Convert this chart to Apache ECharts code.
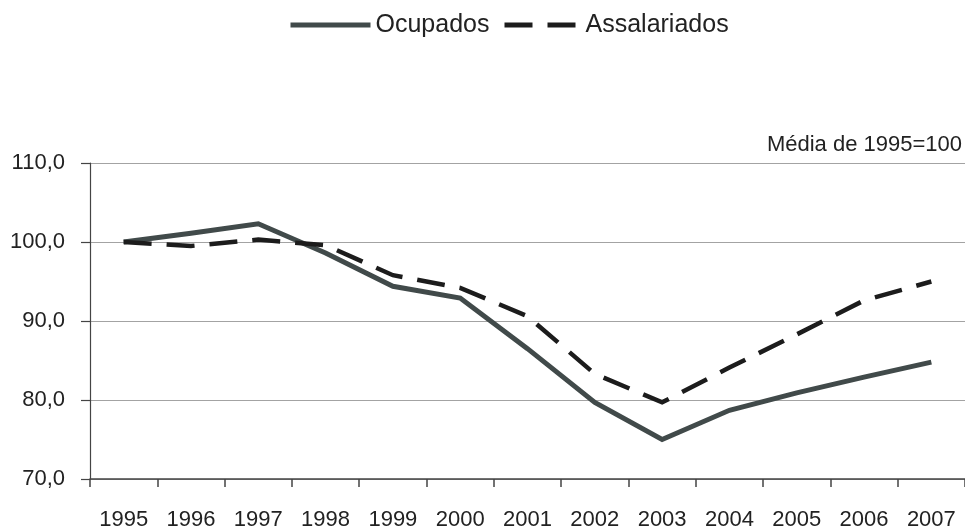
<!DOCTYPE html>
<html>
<head>
<meta charset="utf-8">
<script src="https://cdn.jsdelivr.net/npm/echarts@6/dist/echarts.min.js"></script>
<style>
html,body{margin:0;padding:0;background:#fff;}
#chart{width:965px;height:531px;}
</style>
</head>
<body>
<div id="chart"></div>
<script>
var categories = ['1995','1996','1997','1998','1999','2000','2001','2002','2003','2004','2005','2006','2007'];
var ocupados = [100.0, 101.1, 102.3, 98.6, 94.4, 92.9, 86.5, 79.7, 75.0, 78.7, 80.9, 82.9, 84.8];
var assalariados = [100.0, 99.5, 100.3, 99.6, 95.8, 94.2, 90.6, 83.3, 79.7, 84.1, 88.3, 92.6, 95.0];
var yTicks = [70, 80, 90, 100, 110];
var noteText = 'Média de 1995=100';

var FONT = '"Liberation Sans", Arial, sans-serif';
var legendCommon = {
  top: 12, padding: 0, itemHeight: 14, itemGap: 0,
  lineStyle: { width: 5 },
  itemStyle: { opacity: 0, borderWidth: 0 },
  textStyle: { fontFamily: FONT, fontSize: 25, color: '#222', lineHeight: 26 }
};
var chart = echarts.init(document.getElementById('chart'));
chart.setOption({
  animation: false,
  backgroundColor: '#ffffff',
  textStyle: { fontFamily: FONT },
  legend: [
    Object.assign({}, legendCommon, { data: ['Ocupados'], left: 288, itemWidth: 80 }),
    Object.assign({}, legendCommon, { data: ['Assalariados'], left: 502, itemWidth: 76 })
  ],
  grid: { left: 90, right: 0, top: 163, bottom: 48, containLabel: false },
  xAxis: {
    type: 'category',
    data: categories,
    boundaryGap: true,
    axisLine: { lineStyle: { color: '#444', width: 1.5 } },
    axisTick: { show: true, interval: 0, length: 8, lineStyle: { color: '#444', width: 1.5 } },
    axisLabel: { interval: 0, margin: 30, fontSize: 22, color: '#222', fontFamily: FONT },
    splitLine: { show: false }
  },
  yAxis: {
    type: 'value',
    min: yTicks[0], max: yTicks[yTicks.length - 1], interval: 10,
    axisLine: { show: true, lineStyle: { color: '#444', width: 1.2 } },
    axisTick: { show: true, length: 9, lineStyle: { color: '#444', width: 1.2 } },
    axisLabel: {
      margin: 25, fontSize: 22, color: '#222', fontFamily: FONT,
      formatter: function (v) { return v.toFixed(1).replace('.', ','); }
    },
    splitLine: { show: true, lineStyle: { color: '#a3a3a3', width: 1.2 } }
  },
  graphic: [{
    type: 'text',
    right: 3, top: 134,
    style: { text: noteText, font: '22px ' + FONT, fill: '#222' }
  }],
  series: [
    {
      name: 'Ocupados', type: 'line', data: ocupados, symbol: 'none',
      lineStyle: { color: '#414a4a', width: 5, cap: 'butt', join: 'miter' },
      itemStyle: { color: '#414a4a' }
    },
    {
      name: 'Assalariados', type: 'line', data: assalariados, symbol: 'none',
      lineStyle: { color: '#1c1c1c', width: 4.5, type: [28, 15], cap: 'butt', join: 'miter' },
      itemStyle: { color: '#1c1c1c' }
    }
  ]
});
</script>
</body>
</html>
